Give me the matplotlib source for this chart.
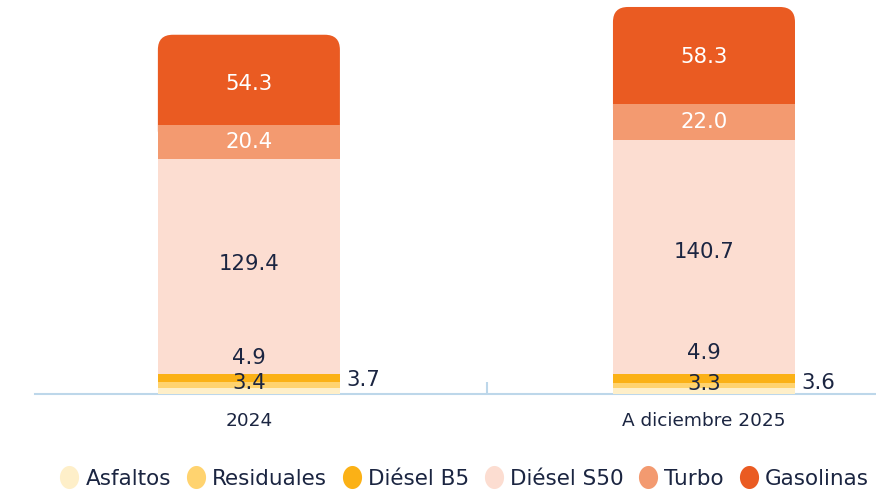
import matplotlib
matplotlib.use("Agg")
import matplotlib.pyplot as plt
from matplotlib.patches import FancyBboxPatch
from matplotlib.path import Path
from matplotlib.lines import Line2D
import numpy as np

categories = ["2024", "A diciembre 2025"]
series_names = ["Asfaltos", "Residuales", "Diésel B5", "Diésel S50", "Turbo", "Gasolinas"]
asfaltos = [3.7, 3.6]
residuales = [3.4, 3.3]
diesel_b5 = [4.9, 4.9]
diesel_s50 = [129.4, 140.7]
turbo = [20.4, 22.0]
gasolinas = [54.3, 58.3]
values = [asfaltos, residuales, diesel_b5, diesel_s50, turbo, gasolinas]
colors = ["#FEEFC9", "#FFD36F", "#FBB116", "#FCDDD1", "#F39A70", "#EA5B22"]
text_dark = "#1B2541"

plt.rcParams['font.family'] = ['DejaVu Sans']

W, H = 876, 494
fig = plt.figure(figsize=(W / 100, H / 100), dpi=100)
ax_l, ax_r, ax_b, ax_t = 35, 876, 394, 0
ax = fig.add_axes([ax_l / W, (H - ax_b) / H, (ax_r - ax_l) / W, (ax_b - ax_t) / H])

xlim = (-0.470, 1.378)
ylim = (0, 237.0)
ax.set_xlim(*xlim)
ax.set_ylim(*ylim)
px_x = (ax_r - ax_l) / (xlim[1] - xlim[0])
px_y = (ax_b - ax_t) / (ylim[1] - ylim[0])

x = np.arange(len(categories))
width = 0.40
bottoms = np.zeros(len(categories))
seg_bottoms = []
for i, (vals, col) in enumerate(zip(values, colors)):
    vals = np.array(vals)
    seg_bottoms.append(bottoms.copy())
    if i < len(values) - 1:
        ax.bar(x, vals, width, bottom=bottoms, color=col, edgecolor='none', zorder=3)
    else:
        r_px = 15
        for xi, v, b in zip(x, vals, bottoms):
            ext = 12
            patch = FancyBboxPatch((xi - width / 2, b - ext), width, v + ext,
                                   boxstyle=f"round,pad=0,rounding_size={r_px / px_x}",
                                   mutation_aspect=(r_px / px_y) / (r_px / px_x),
                                   facecolor=col, edgecolor='none', zorder=2)
            ax.add_patch(patch)
    bottoms = bottoms + vals

# label vertical offsets in pixels (up), per series, per category
fs = 15.3
label_dy = {
    5: [-4.5, -2],
    4: [-0.5, 0.5],
    3: [2, 5.5],
    2: [20.5, 25],
    1: [2.5, 1],
}
for j in range(len(categories)):
    for i in [1, 2, 3, 4, 5]:
        v = values[i][j]
        yc = seg_bottoms[i][j] + v / 2
        c = 'white' if i >= 4 else text_dark
        ax.annotate(f"{v:.1f}", (x[j], yc), xytext=(0, label_dy[i][j]), textcoords='offset pixels',
                    ha='center', va='center', fontsize=fs, color=c, zorder=5)
    yasf = seg_bottoms[0][j] + asfaltos[j] / 2
    ax.annotate(f"{asfaltos[j]:.1f}", (x[j] + width / 2, yasf), xytext=(6, [10.5, 8.5][j]),
                textcoords='offset pixels', ha='left', va='center', fontsize=fs,
                color=text_dark, zorder=5)

for s in ['top', 'right', 'left']:
    ax.spines[s].set_visible(False)
ax.spines['bottom'].set_color('#BDD7EA')
ax.spines['bottom'].set_linewidth(1.5)
ax.set_yticks([])
ax.set_xticks(x)
ax.set_xticklabels(categories, fontsize=13.3, color=text_dark)
ax.tick_params(axis='x', which='major', length=0, pad=13)
ax.set_xticks([0.523], minor=True)
ax.tick_params(axis='x', which='minor', direction='in', length=9, width=1.5, color='#BDD7EA')

# legend with oval markers
t = np.linspace(0, 2 * np.pi, 60)
oval = Path(np.column_stack([0.83 * np.cos(t), np.sin(t)]))
handles = [Line2D([], [], linestyle='none', marker=oval, markersize=16.6,
                  markerfacecolor=c, markeredgecolor='none') for c in colors]
leg = fig.legend(handles, series_names, loc='center', bbox_to_anchor=(0.530, 0.031), ncol=6,
                 frameon=False, fontsize=15.5, handletextpad=0.3, columnspacing=0.7,
                 handlelength=0.9, borderpad=0, borderaxespad=0)
for txt in leg.get_texts():
    txt.set_color(text_dark)

fig.savefig("out.png", dpi=100)
